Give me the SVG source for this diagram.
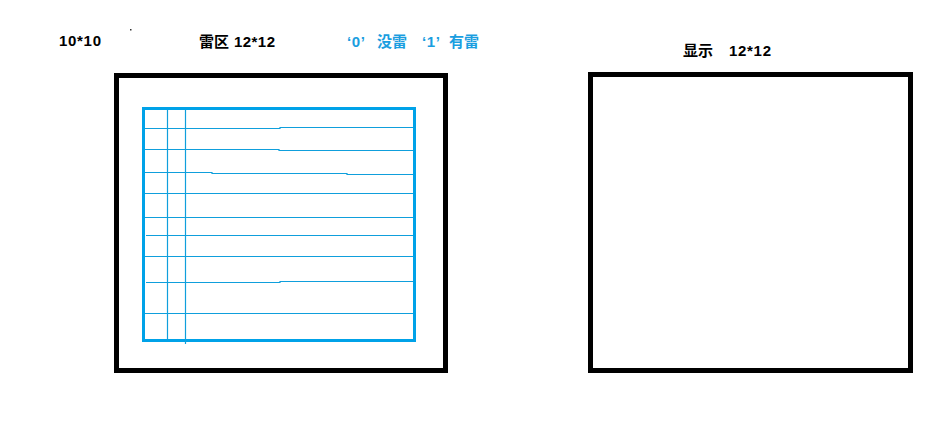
<svg xmlns="http://www.w3.org/2000/svg" width="949" height="430" viewBox="0 0 949 430">
<style>
.blk{fill:none;stroke:#000;stroke-width:5}
.bb{fill:none;stroke:#00a2e8;stroke-width:3}
.gl{fill:none;stroke:#0f9fdc;stroke-width:1.2}
.t{font-family:"Liberation Sans","Noto Sans CJK SC",sans-serif;font-weight:bold;font-size:15px;fill:#000}
.c{font-family:"Noto Sans CJK SC","Liberation Sans",sans-serif;font-weight:bold;font-size:15px;fill:#000}
.bt{fill:#1a9ee0}
</style>
<rect width="949" height="430" fill="#fff"/>
<g id="labels">
<text class="t" x="59" y="46" textLength="42">10*10</text>
<rect x="130" y="29" width="1.5" height="1.5" fill="#333"/>
<text class="c" x="199" y="47">雷区</text>
<text class="t" x="234" y="47" textLength="41">12*12</text>
<text class="t bt" x="347" y="47" textLength="18" lengthAdjust="spacing">‘0’</text>
<text class="c bt" x="377" y="47">没雷</text>
<text class="t bt" x="422" y="47" textLength="18" lengthAdjust="spacing">‘1’</text>
<text class="c bt" x="449" y="47">有雷</text>
<text class="c" x="683" y="56">显示</text>
<text class="t" x="729" y="56" textLength="42">12*12</text>
</g>
<g id="mine-area">
<rect class="blk" x="116.5" y="75.5" width="329" height="295"/>
</g>
<g id="grid">
<rect class="bb" x="143.5" y="108.5" width="271" height="232"/>
<path class="gl" d="M167.5 110V340M185.5 110V344
M145 128.5H280V127.5H413
M145 149.5H279V150.5H413
M145 172.5H212V173.5H347V174.5H413
M145 193.5H413
M145 217.5H413
M146 235.5H413
M145 256.5H413
M146 282.5H280V281.5H413
M145 313.5H413"/>
</g>
<g id="display">
<rect class="blk" x="590.5" y="74.5" width="320" height="296"/>
</g>
<g id="connectors"></g>
</svg>
